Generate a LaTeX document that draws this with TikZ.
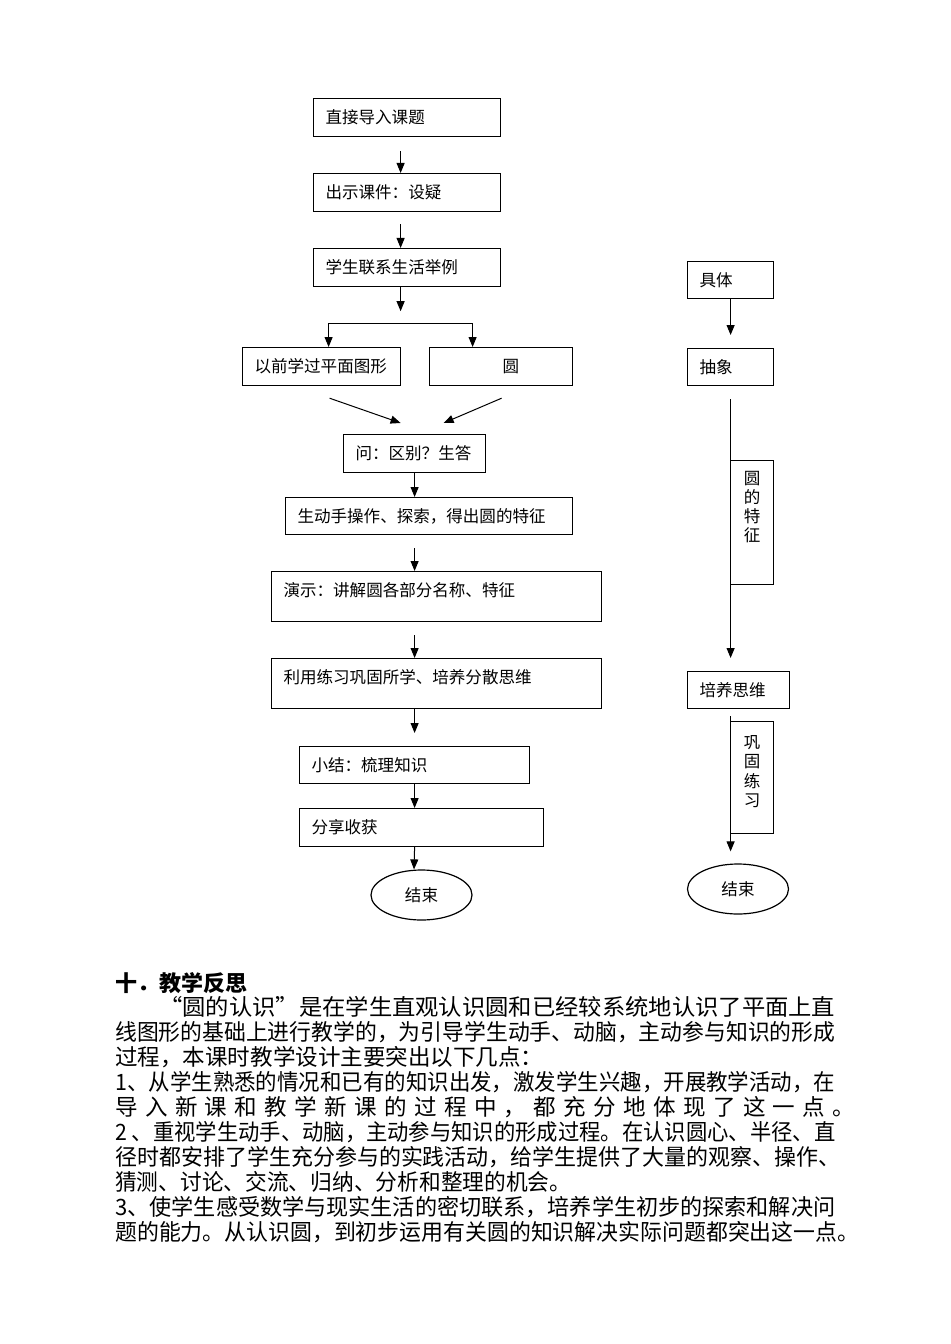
\documentclass[tikz,border=0pt]{standalone}
\usepackage{fontspec}
\setmainfont{Noto Sans CJK SC}
\usepackage{graphicx}
\usetikzlibrary{arrows.meta,shapes.geometric,calc}
\newlength\pxu \setlength\pxu{0.75pt}
\newcommand\flowfont{\fontsize{12.4pt}{14.3pt}\selectfont}
\newcommand\bodyfont{\fontsize{16.9pt}{18pt}\selectfont}
\tikzset{
  box/.style={draw, line width=0.9pt, rectangle, anchor=north west,
    inner xsep=12\pxu, inner ysep=0pt, align=left, font=\flowfont,
    text height=24.5\pxu},
  vbox/.style={draw, line width=0.9pt, rectangle, anchor=north west,
    inner xsep=0pt, inner ysep=0pt, align=center, font=\flowfont,
    text width=43\pxu},
  endnode/.style={draw, line width=0.9pt, ellipse, minimum width=101\pxu,
    minimum height=50\pxu, inner sep=0pt, font=\flowfont},
  arr/.style={line width=0.75pt, -{Triangle[length=7.5pt,width=6pt]}},
  bodyl/.style={anchor=base west, inner sep=0pt, font=\bodyfont},
}
\begin{document}
\begin{tikzpicture}[x=0.75pt,y=-0.75pt]
\useasboundingbox (0,0) rectangle (950,1344);
% ---------- left flow ----------
\node[box, text width=163\pxu, text depth=13.5\pxu] (b1) at (313,98) {直接导入课题};
\node[box, text width=163\pxu, text depth=13.5\pxu] (b2) at (313,173) {出示课件：设疑};
\node[box, text width=163\pxu, text depth=13.5\pxu] (b3) at (313,248) {学生联系生活举例};
\node[box, text width=134\pxu, text depth=13.5\pxu] (b4) at (242,347) {以前学过平面图形};
\node[box, text width=119\pxu, text depth=13.5\pxu] (b5) at (429,347) {\hspace*{61\pxu}圆};
\node[box, text width=118\pxu, text depth=13.5\pxu] (b6) at (343,434) {问：区别？生答};
\node[box, text width=263\pxu, text depth=12.5\pxu] (b7) at (285,497) {生动手操作、探索，得出圆的特征};
\node[box, text width=306\pxu, text depth=25.5\pxu] (b8) at (271,571) {演示：讲解圆各部分名称、特征};
\node[box, text width=306\pxu, text depth=25.5\pxu] (b9) at (271,658) {利用练习巩固所学、培养分散思维};
\node[box, text width=206\pxu, text depth=12.5\pxu] (b10) at (299,746) {小结：梳理知识};
\node[box, text width=220\pxu, text depth=13.5\pxu] (b11) at (299,808) {分享收获};
\node[endnode] (e1) at (421.5,895) {结束};

\draw[arr] ($(b1.south)+(-6.5,14)$) -- ($(b2.north)+(-6.5,0)$);
\draw[arr] ($(b2.south)+(-6.5,12)$) -- ($(b3.north)+(-6.5,0)$);
\coordinate (t3) at ($(b3.south)+(-6.5,24)$);
\draw[arr] ($(b3.south)+(-6.5,0)$) -- (t3);
\coordinate (bl) at ($(b4.north)+(7,-24)$);
\coordinate (brr) at ($(b5.north)+(-28.5,-24)$);
\draw[arr] (brr) -- (bl) -- (bl |- b4.north);
\draw[arr] (brr) -- (brr |- b5.north);
\draw[arr] ($(b4.south)+(8,12)$) -- ($(b6.north)+(-14,-11)$);
\draw[arr] ($(b5.south)+(0.5,12)$) -- ($(b6.north)+(29,-11)$);
\draw[arr] (b6.south) -- ($(b7.north)+(-14.5,0)$);
\draw[arr] ($(b7.south)+(-14.5,13)$) -- ($(b8.north)+(-22,0)$);
\draw[arr] ($(b8.south)+(-22,13)$) -- ($(b9.north)+(-22,0)$);
\draw[arr] ($(b9.south)+(-22,0)$) -- ($(b10.north)+(0,-13)$);
\draw[arr] (b10.south) -- ($(b11.north)+(-7,0)$);
\draw[arr] ($(b11.south)+(-7,0)$) -- ($(e1.north)+(-7.5,0)$);

% ---------- right flow ----------
\node[box, text width=62\pxu, text depth=12.5\pxu] (r1) at (687,261) {具体};
\node[box, text width=62\pxu, text depth=12.5\pxu] (r2) at (687,348) {抽象};
\node[vbox, text height=23.5\pxu, text depth=100.5\pxu] (r3) at (730,460) {圆\\的\\特\\征};
\node[box, text width=78\pxu, text depth=12.5\pxu] (r4) at (687,671) {培养思维};
\node[vbox, text height=27.3\pxu, text depth=84.7\pxu] (r5) at (730,721) {巩\\固\\练\\习};
\node[endnode] (e2) at (738,889) {结束};

\draw[arr] (r1.south) -- ($(r2.north)+(0,-13)$);
\draw[arr] ($(r2.south)+(0,13)$) -- ($(r2.south |- r4.north)+(0,-13)$);
\draw[arr] ($(r2.south |- r4.south)+(0,7)$) -- ($(r2.south |- e2.north)+(0,-12)$);

% ---------- text ----------
\node[bodyl, font=\fontsize{16.5pt}{18pt}\selectfont\bfseries] (h) at (115,991.3) {十．教学反思};
\node[bodyl] (l1) at (159,1015.5) {\resizebox{507pt}{\height}{“圆的认识”是在学生直观认识圆和已经较系统地认识了平面上直}};
\node[bodyl] (l2) at (115,1040.5) {\resizebox{540pt}{\height}{线图形的基础上进行教学的，为引导学生动手、动脑，主动参与知识的形成}};
\node[bodyl] (l3) at (115,1065.5) {过程，本课时教学设计主要突出以下几点：};
\node[bodyl] (l4) at (115,1090.5) {\resizebox{540pt}{\height}{1、从学生熟悉的情况和已有的知识出发，激发学生兴趣，开展教学活动，在}};
\node[bodyl] (l5) at (115,1115.5) {\makebox[555pt][s]{导\hfill 入\hfill 新\hfill 课\hfill 和\hfill 教\hfill 学\hfill 新\hfill 课\hfill 的\hfill 过\hfill 程\hfill 中\hfill ，\hfill 都\hfill 充\hfill 分\hfill 地\hfill 体\hfill 现\hfill 了\hfill 这\hfill 一\hfill 点\hfill 。}};
\node[bodyl] (l6) at (115,1140.5) {\resizebox{540pt}{\height}{2 、重视学生动手、动脑，主动参与知识的形成过程。在认识圆心、半径、直}};
\node[bodyl] (l7) at (115,1165.5) {\resizebox{544pt}{\height}{径时都安排了学生充分参与的实践活动，给学生提供了大量的观察、操作、}};
\node[bodyl] (l8) at (115,1190.5) {\resizebox{342pt}{\height}{猜测、讨论、交流、归纳、分析和整理的机会。}};
\node[bodyl] (l9) at (115,1215.5) {\resizebox{540pt}{\height}{3、使学生感受数学与现实生活的密切联系，培养学生初步的探索和解决问}};
\node[bodyl] (l10) at (115,1240.5) {\resizebox{558pt}{\height}{题的能力。从认识圆，到初步运用有关圆的知识解决实际问题都突出这一点。}};
\end{tikzpicture}
\end{document}
